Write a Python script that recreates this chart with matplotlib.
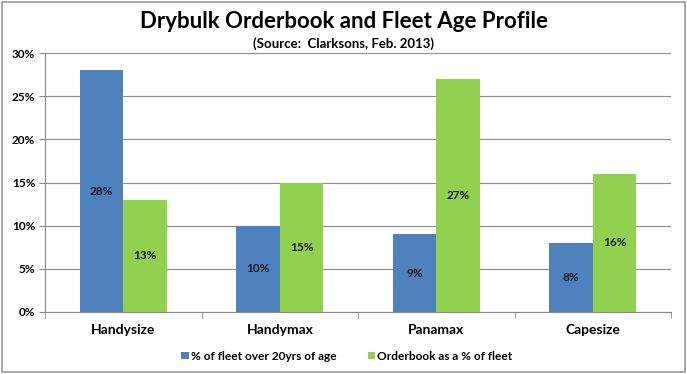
import numpy as np
import matplotlib.pyplot as plt
from matplotlib.patches import Rectangle

categories = ['Handysize', 'Handymax', 'Panamax', 'Capesize']
fleet_over_20 = [28, 10, 9, 8]
orderbook = [13, 15, 27, 16]
series_names = ['% of fleet over 20yrs of age', 'Orderbook as a % of fleet']

plt.rcParams['font.family'] = ['Lato', 'DejaVu Sans']

fig = plt.figure(figsize=(6.87, 3.74), dpi=100)
ax = fig.add_axes([0.0655, 0.166, 0.9115, 0.692])

x = np.arange(len(categories))
w = 0.278
b1 = ax.bar(x - w / 2, fleet_over_20, w, color='#4F81BD', label=series_names[0], zorder=2)
b2 = ax.bar(x + w / 2, orderbook, w, color='#92D050', label=series_names[1], zorder=2)

for bars, vals in ((b1, fleet_over_20), (b2, orderbook)):
    for r, v in zip(bars, vals):
        ax.text(r.get_x() + r.get_width() / 2, v / 2, f'{v}%', ha='center', va='center',
                fontsize=8.5, fontweight='bold', color='#1a1a1a')

ax.set_xlim(-0.5, 3.5)
ax.set_ylim(0, 30)
ax.set_yticks(range(0, 31, 5))
ax.set_yticklabels([f'{v}%' for v in range(0, 31, 5)], fontsize=8.5, fontweight='bold')
ax.set_xticks(x)
ax.set_xticklabels(categories, fontsize=10, fontweight='bold')
ax.set_xticks([-0.5, 0.5, 1.5, 2.5, 3.5], minor=True)
ax.tick_params(axis='x', which='major', length=0, pad=9)
ax.tick_params(axis='x', which='minor', length=4, color='#888888')
ax.tick_params(axis='y', length=4, color='#888888', pad=3)
ax.grid(axis='y', color='#8c8c8c', linewidth=0.8, zorder=0)
for s in ['top', 'right']:
    ax.spines[s].set_visible(False)
ax.spines['left'].set_color('#888888')
ax.spines['bottom'].set_color('#888888')

fig.text(0.5, 0.942, 'Drybulk Orderbook and Fleet Age Profile', ha='center', va='center',
         fontsize=16, fontweight='bold')
fig.text(0.5, 0.882, '(Source:  Clarksons, Feb. 2013)', ha='center', va='center',
         fontsize=9.5, fontweight='bold')

fig.legend(handles=[b1, b2], loc='center', bbox_to_anchor=(0.505, 0.048), ncol=2, frameon=False,
           prop={'weight': 'bold', 'size': 8.6}, handlelength=0.6, handleheight=0.6,
           handletextpad=0.2, columnspacing=2.6)

fig.patches.append(Rectangle((0.003, 0.005), 0.994, 0.99, transform=fig.transFigure,
                             fill=False, edgecolor='#999999', linewidth=1.2))

fig.savefig('out.png', dpi=100)
